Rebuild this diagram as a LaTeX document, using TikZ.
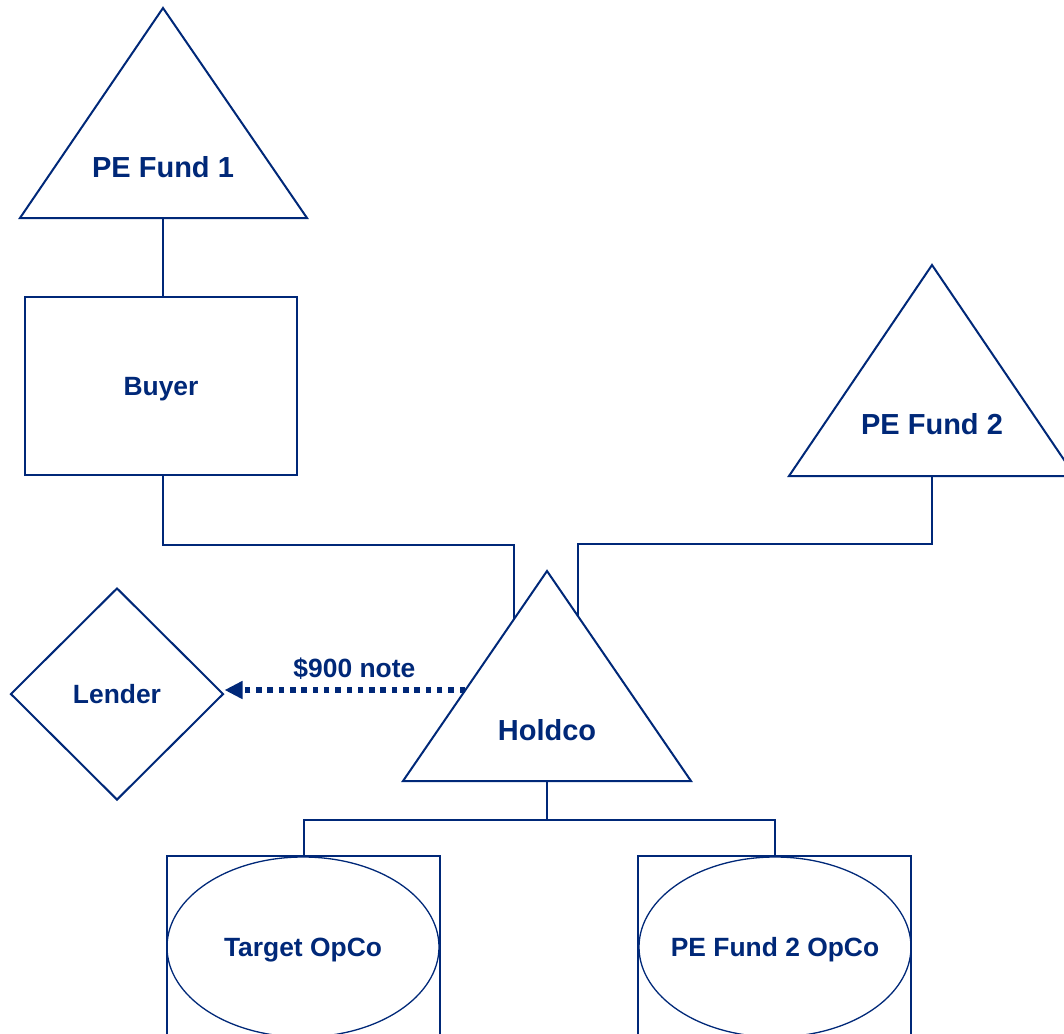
\documentclass[tikz,border=0pt]{standalone}
\usepackage{fontspec}
\setmainfont{Liberation Sans}
\usetikzlibrary{shapes.geometric,arrows.meta,positioning}
\definecolor{navy}{RGB}{0,40,120}

\begin{document}
\begin{tikzpicture}[x=1pt, y=-1pt,
    outline/.style={draw=navy, line width=2pt},
    bigtext/.style={text=navy, font=\bfseries\fontsize{29}{34}\selectfont, text depth=0pt, inner sep=0pt},
    smalltext/.style={text=navy, font=\bfseries\fontsize{26.4}{31}\selectfont, text depth=0pt, inner sep=0pt},
    box/.style={rectangle, outline, minimum width=272pt, minimum height=178pt},
    lenderbox/.style={diamond, outline, minimum width=213pt, minimum height=212pt},
    opcobox/.style={rectangle, outline, minimum width=273pt, minimum height=200pt},
    opco/.style={ellipse, draw=navy, line width=1.3pt, inner xsep=-12pt, minimum width=272pt, minimum height=180pt},
    notearrow/.style={draw=navy, line width=5.5pt, dash pattern=on 5.5pt off 5.8pt,
      -{Triangle[length=18pt, width=17pt]}}]

  \useasboundingbox (0,0) rectangle (1064,1033);
  \clip (0,0) rectangle (1064,1033);

  % funds
  \draw[outline] (163,8) -- (307,218) -- (20,218) -- cycle;
  \node[bigtext] (fund1) at (163,167) {PE Fund 1};
  \coordinate (fund1base) at (163,218);

  \draw[outline] (932,265) -- (1075,476) -- (789,476) -- cycle;
  \node[bigtext] (fund2) at (932,424) {PE Fund 2};
  \coordinate (fund2base) at (932,476);

  \node[box, smalltext] (buyer) at (161,386) {Buyer};

  % holdco
  \draw[outline] (547,571) -- (691,781) -- (403,781) -- cycle;
  \node[bigtext] (holdco) at (547,730) {Holdco};
  \coordinate (holdleft) at (514,619);
  \coordinate (holdright) at (578,616);
  \coordinate (holdnote) at (465,690);
  \coordinate (holdbase) at (547,781);

  \node[lenderbox, smalltext] (lender) at (117,694) {Lender};

  % opcos
  \node[opcobox] (targetbox) at (303.5,956) {};
  \node[smalltext, opco] (target) at (303,947) {Target OpCo};
  \node[opcobox] (fund2opcobox) at (774.5,956) {};
  \node[smalltext, opco] (fund2opco) at (775,947) {PE Fund 2 OpCo};

  % connectors
  \draw[outline] (fund1base) -- (fund1base |- buyer.north);
  \draw[outline] (fund1base |- buyer.south) -- ++(0,69) -| (holdleft);
  \draw[outline] (fund2base) -- ++(0,68) -| (holdright);
  \draw[outline] (holdbase) -- ++(0,39) coordinate (split);
  \draw[outline] (targetbox.north) |- (split) -| (fund2opcobox.north);
  \draw[notearrow] (holdnote) -- node[smalltext, above=10pt, pos=0.46] {\$900 note} (holdnote -| lender.east);

\end{tikzpicture}
\end{document}
